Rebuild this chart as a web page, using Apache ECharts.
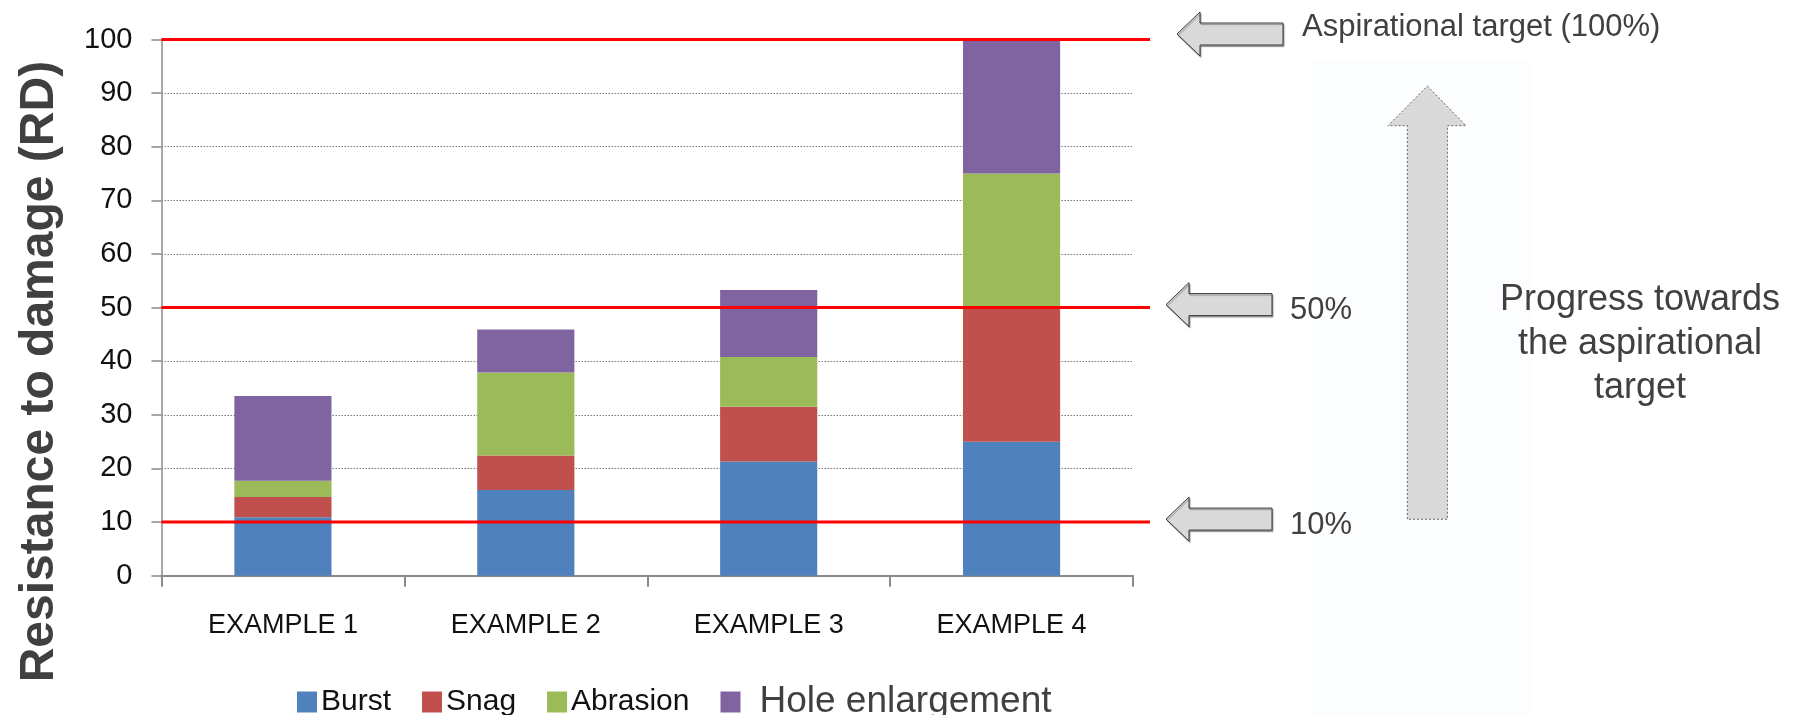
<!DOCTYPE html>
<html>
<head>
<meta charset="utf-8">
<script src="https://cdn.jsdelivr.net/npm/echarts@6/dist/echarts.min.js"></script>
<style>
  html, body { margin: 0; padding: 0; background: #ffffff; }
  #chart { width: 1805px; height: 715px; }
</style>
</head>
<body>
<div id="chart"></div>
<script>
// Resistance-to-damage contributions per example
const categories = ['EXAMPLE 1', 'EXAMPLE 2', 'EXAMPLE 3', 'EXAMPLE 4'];
const burst = [10.9, 16.0, 21.3, 25];
const snag = [3.8, 6.4, 10.2, 25];
const abrasion = [3.0, 15.5, 9.3, 25];
const holeEnlargement = [15.8, 8.0, 12.5, 25];

// Target reference levels and their captions
const targetLevels = [100, 50, 10];
const targetCaptions = ['Aspirational target (100%)', '50%', '10%'];
const progressCaption = 'Progress towards\nthe aspirational\ntarget';

const SANS = "'Liberation Sans', Arial, sans-serif";

const chart = echarts.init(document.getElementById('chart'), null, { renderer: 'canvas' });

function stackSeries(name, data, color) {
  return {
    name: name,
    type: 'bar',
    stack: 'rd',
    barWidth: '40%',
    data: data,
    itemStyle: { color: color },
    emphasis: { disabled: true }
  };
}

chart.setOption({
  animation: false,
  backgroundColor: '#ffffff',
  grid: { left: 161.5, right: 672, top: 39.5, bottom: 139.3, containLabel: false },
  legend: {
    left: 297,
    top: 680,
    padding: 0,
    itemWidth: 20,
    itemHeight: 21,
    itemGap: 31,
    icon: 'rect',
    textStyle: { fontFamily: SANS, fontSize: 30, lineHeight: 36, color: '#111111', padding: [0, 0, 0, -1] },
    data: [
      { name: 'Burst' },
      { name: 'Snag' },
      { name: 'Abrasion' },
      { name: 'Hole enlargement', textStyle: { fontFamily: SANS, fontSize: 37, lineHeight: 36, color: '#404040', padding: [0, 0, 8, 14] } }
    ]
  },
  xAxis: {
    type: 'category',
    data: categories,
    axisLine: { lineStyle: { color: '#8a8a8a', width: 2 } },
    axisTick: { show: true, length: 11, lineStyle: { color: '#8a8a8a', width: 2 } },
    axisLabel: { fontFamily: SANS, fontSize: 27, color: '#111111', margin: 36 },
    splitLine: { show: false }
  },
  yAxis: {
    type: 'value',
    min: 0,
    max: 100,
    interval: 10,
    name: 'Resistance to damage (RD)',
    nameLocation: 'middle',
    nameRotate: 90,
    nameGap: 98,
    nameTextStyle: {
      fontFamily: SANS, fontSize: 48, fontWeight: 'bold', color: '#404040',
      padding: [0, 128, 0, 0]
    },
    axisLine: { show: true, lineStyle: { color: '#8a8a8a', width: 1.5 } },
    axisTick: { show: true, length: 10, lineStyle: { color: '#8a8a8a', width: 1.5 } },
    axisLabel: { fontFamily: SANS, fontSize: 29, color: '#111111', margin: 29 },
    splitLine: { show: true, lineStyle: { color: '#7a7a7a', type: [1.5, 1.5], width: 1 } }
  },
  series: [
    stackSeries('Burst', burst, '#4F81BD'),
    stackSeries('Snag', snag, '#C0504D'),
    stackSeries('Abrasion', abrasion, '#9BBB59'),
    stackSeries('Hole enlargement', holeEnlargement, '#8064A2')
  ]
});

// Reference lines, arrows and captions placed from the value axis scale
function leftArrow(tipX, cy, len, headLen, headHalf, bodyHalf) {
  return [
    [tipX, cy],
    [tipX + headLen, cy - headHalf],
    [tipX + headLen, cy - bodyHalf],
    [tipX + len, cy - bodyHalf],
    [tipX + len, cy + bodyHalf],
    [tipX + headLen, cy + bodyHalf],
    [tipX + headLen, cy + headHalf]
  ];
}

const gridRect = chart.getModel().getComponent('grid', 0).coordinateSystem.getRect();
const lineStart = gridRect.x;
const lineEnd = gridRect.x + gridRect.width + 17;

const graphics = [];

// faint panel behind the progress arrow
graphics.push({
  type: 'rect', z: 0, silent: true,
  shape: { x: 1312, y: 60, width: 218, height: 655 },
  style: { fill: '#fcfdfe' }
});

targetLevels.forEach(function (level, i) {
  const y = chart.convertToPixel({ yAxisIndex: 0 }, level);
  graphics.push({
    type: 'line', z: 100, silent: true,
    shape: { x1: lineStart, y1: y, x2: lineEnd, y2: y },
    style: { stroke: '#ff0000', lineWidth: 3 }
  });
  const isTop = i === 0;
  const tipX = isTop ? 1177 : 1166;
  const cy = y - (isTop ? 5.5 : 3);
  graphics.push({
    type: 'polygon', z: 100, silent: true,
    shape: { points: leftArrow(tipX, cy, 106, 23, 22, 11) },
    style: {
      fill: '#d9d9d9', stroke: '#3a3a3a', lineWidth: 1,
      shadowColor: 'rgba(0,0,0,0.35)', shadowOffsetX: 1, shadowOffsetY: 1.5, shadowBlur: 1
    }
  });
  graphics.push({
    type: 'text', z: 100, silent: true,
    style: {
      x: isTop ? 1302 : 1290,
      y: isTop ? cy - 7 : y + 3,
      text: targetCaptions[i],
      fontFamily: SANS, fontSize: 31, fill: '#404040',
      align: 'left', verticalAlign: 'middle'
    }
  });
});

// upward progress arrow
graphics.push({
  type: 'polygon', z: 100, silent: true,
  shape: {
    points: [
      [1427.4, 86], [1466, 125.7], [1447.4, 125.7], [1447.4, 519.3],
      [1407.3, 519.3], [1407.3, 125.7], [1388, 125.7]
    ]
  },
  style: { fill: '#d9d9d9', stroke: '#666666', lineWidth: 1, lineDash: [2, 2] }
});

graphics.push({
  type: 'text', z: 100, silent: true,
  style: {
    x: 1640, y: 344,
    text: progressCaption,
    fontFamily: SANS, fontSize: 36, lineHeight: 44, fill: '#404040',
    align: 'center', verticalAlign: 'middle'
  }
});

chart.setOption({ graphic: graphics });
</script>
</body>
</html>
